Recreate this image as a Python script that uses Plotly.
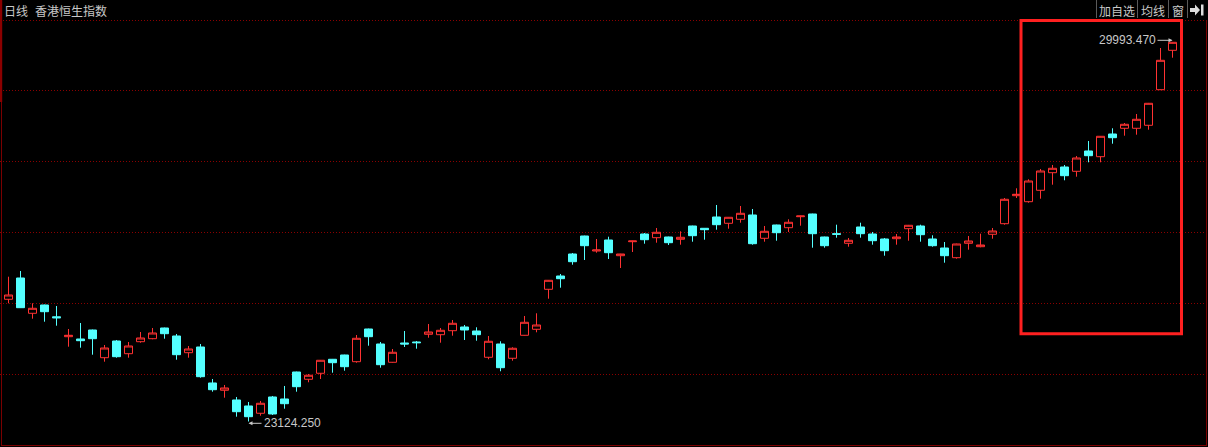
import plotly.graph_objects as go

# ---------------- data ----------------
title_period = "日线"
title_name = "香港恒生指数"
button_labels = ["加自选", "均线", "窗"]

day_index = list(range(98))

opens = [25336.4, 25721.9, 25083.0, 25233.2, 25019.6, 24659.4, 24617.8, 24780.7, 24279.3, 24581.6,
         24351.7, 24568.9, 24623.2, 24816.9, 24672.1, 24369.8, 24473.0, 23821.4, 23689.3, 23513.7,
         23405.1, 23273.0, 23568.0, 23531.8, 24020.5, 23888.4, 23997.0, 24250.4, 24328.2, 24206.9,
         24798.8, 24527.3, 24196.1, 24545.4, 24563.5, 24702.9, 24695.6, 24768.0, 24835.0, 24762.6,
         24286.6, 24527.3, 24268.5, 24684.8, 24793.4, 25517.4, 25758.1, 26156.3, 26482.1, 26210.6,
         26409.7, 26125.5, 26378.9, 26518.3, 26451.3, 26464.0, 26422.4, 26663.1, 26621.5, 26826.0,
         26712.0, 26784.4, 26862.2, 26440.5, 26681.2, 26632.3, 26831.4, 26880.3, 26464.0, 26523.7,
         26350.0, 26645.0, 26518.3, 26427.8, 26433.2, 26614.2, 26663.1, 26427.8, 26264.9, 26089.3,
         26350.0, 26288.4, 26512.9, 26704.7, 27211.5, 27102.9, 27309.3, 27627.8, 27731.0, 27653.2,
         28020.6, 27917.4, 28328.3, 28431.5, 28431.5, 28485.8, 29130.1, 29843.3]

highs = [25745.4, 25848.6, 25264.0, 25240.5, 25215.1, 24798.8, 24907.4, 24788.0, 24509.2, 24599.7,
         24563.5, 24744.5, 24816.9, 24823.5, 24708.3, 24491.1, 24527.3, 23893.8, 23785.2, 23568.0,
         23477.5, 23495.6, 23586.1, 23767.1, 24027.0, 23984.3, 24237.7, 24256.0, 24333.0, 24690.2,
         24805.0, 24563.5, 24436.8, 24762.6, 24581.6, 24889.3, 24816.9, 24961.7, 24871.2, 24829.6,
         24672.1, 24576.2, 24467.6, 25034.1, 25083.0, 25685.7, 25794.3, 26174.4, 26488.0, 26427.8,
         26469.4, 26160.0, 26396.0, 26536.4, 26626.9, 26470.0, 26567.2, 26669.0, 26626.0, 27043.2,
         26826.0, 27025.1, 26970.8, 26663.1, 26687.0, 26784.4, 26850.0, 26886.0, 26470.0, 26686.6,
         26445.9, 26722.8, 26554.5, 26445.9, 26518.3, 26682.0, 26686.6, 26494.8, 26373.5, 26343.0,
         26482.1, 26523.7, 26626.9, 27169.9, 27345.5, 27508.4, 27694.8, 27767.2, 27767.2, 27930.1,
         28201.6, 28292.0, 28431.5, 28527.4, 28690.3, 28890.0, 29884.9, 29993.47]

lows = [25264.0, 25178.9, 24985.2, 24930.9, 24858.5, 24478.4, 24460.3, 24333.6, 24206.9, 24279.3,
        24279.3, 24550.8, 24612.4, 24623.2, 24243.1, 24279.3, 23917.3, 23663.9, 23555.3, 23211.4,
        23124.25, 23229.5, 23242.2, 23356.2, 23663.9, 23834.1, 23893.8, 24007.8, 24044.0, 24188.8,
        24496.5, 24098.3, 24190.0, 24473.0, 24442.2, 24641.3, 24550.8, 24677.5, 24599.7, 24587.0,
        24250.4, 24033.2, 24225.0, 24680.0, 24739.1, 25347.2, 25546.3, 25962.6, 26047.7, 26179.8,
        26065.8, 25902.9, 26192.5, 26342.7, 26360.8, 26319.2, 26324.6, 26378.9, 26415.1, 26596.1,
        26614.2, 26722.8, 26324.6, 26378.9, 26397.0, 26554.5, 26668.5, 26270.3, 26270.3, 26451.3,
        26288.4, 26451.3, 26324.6, 26125.5, 26324.6, 26397.0, 26378.9, 26288.4, 25998.8, 26071.2,
        26234.1, 26277.6, 26433.2, 26686.6, 27169.9, 27084.8, 27157.2, 27410.6, 27490.3, 27555.4,
        27816.1, 27816.1, 28152.7, 28297.5, 28315.6, 28406.1, 29125.0, 29709.3]

closes = [25414.2, 25184.3, 25173.5, 25111.9, 25001.5, 24684.8, 24587.0, 24623.2, 24454.9, 24297.4,
          24491.1, 24635.9, 24726.4, 24713.7, 24333.6, 24436.8, 23935.4, 23700.1, 23730.9, 23301.9,
          23211.4, 23454.0, 23260.3, 23446.7, 23754.4, 23960.8, 24232.3, 24188.8, 24116.4, 24630.5,
          24659.4, 24152.6, 24377.1, 24527.3, 24550.8, 24744.5, 24775.3, 24902.0, 24780.7, 24695.6,
          24576.2, 24098.3, 24449.5, 24920.1, 24871.2, 25680.3, 25709.2, 26016.9, 26306.5, 26228.7,
          26179.8, 26156.3, 26391.6, 26415.1, 26549.1, 26360.8, 26458.6, 26487.5, 26596.1, 26686.6,
          26820.6, 26893.0, 26342.7, 26567.2, 26541.8, 26730.1, 26844.1, 26523.7, 26306.5, 26512.9,
          26404.3, 26523.7, 26397.0, 26216.0, 26464.0, 26675.8, 26505.6, 26306.5, 26125.5, 26337.3,
          26391.6, 26319.2, 26572.6, 27146.4, 27236.9, 27477.6, 27658.6, 27707.5, 27573.5, 27893.9,
          27935.5, 28286.7, 28261.3, 28503.9, 28594.4, 28884.0, 29662.3, 29988.0]

# ---------------- layout geometry ----------------
W, H = 1208, 447
UP_COLOR = "#ff3232"
DOWN_COLOR = "#54ffff"
GRID_COLOR = "#8b0000"
TEXT_COLOR = "#c8c8c8"
BOX_COLOR = "#ff2020"

hmax = max(highs)
lmin = min(lows)
imax = highs.index(hmax)
imin = lows.index(lmin)

# vertical scale: extreme high sits 42px from top, extreme low 421.5px
k = (hmax - lmin) / (421.5 - 42.0)
y_top = hmax + 42.0 * k
y_bot = y_top - H * k
# horizontal scale: 12px per day, first candle centred at 8.5px
x_left = -8.5 / 12
x_right = x_left + W / 12


def px(x):
    return x / W


def py(y):
    return 1 - y / H


def price_at(y):
    return y_top - y * k


grid_pix = [20 + i * 425 / 6 for i in range(6)]

fig = go.Figure()
fig.add_trace(go.Candlestick(
    x=day_index, open=opens, high=highs, low=lows, close=closes,
    increasing=dict(line=dict(color=UP_COLOR, width=1), fillcolor="#000000"),
    decreasing=dict(line=dict(color=DOWN_COLOR, width=1), fillcolor=DOWN_COLOR),
    whiskerwidth=0, showlegend=False, hoverinfo="skip",
))

shapes = []
# frame
shapes.append(dict(type="rect", xref="paper", yref="paper", x0=px(0), x1=px(2.2), y0=py(0), y1=py(102),
                   fillcolor="#8b0000", line=dict(width=0)))
shapes.append(dict(type="line", xref="paper", yref="paper", x0=px(1.5), x1=px(1.5), y0=py(102), y1=py(445.5),
                   line=dict(color="#7a0000", width=1)))
shapes.append(dict(type="line", xref="paper", yref="paper", x0=px(1), x1=px(1207), y0=py(445.5), y1=py(445.5),
                   line=dict(color="#7a0000", width=1)))
shapes.append(dict(type="line", xref="paper", yref="paper", x0=px(1206.5), x1=px(1206.5), y0=py(20), y1=py(445.5),
                   line=dict(color="#7a0000", width=1)))
# highlight box
shapes.append(dict(type="rect", xref="paper", yref="paper", x0=px(1021), x1=px(1181.5), y0=py(20.5), y1=py(333.8),
                   line=dict(color=BOX_COLOR, width=3), fillcolor="rgba(0,0,0,0)"))
# toolbar separators
for sx in [1096.5, 1137.5, 1168.5, 1187.5]:
    shapes.append(dict(type="line", xref="paper", yref="paper", x0=px(sx), x1=px(sx), y0=py(0), y1=py(18),
                       line=dict(color="#5a5a5a", width=1)))
# toolbar icon (arrow into bar)
icon = (f"M {px(1190)},{py(8)} L {px(1195)},{py(8)} L {px(1195)},{py(4.5)} L {px(1200)},{py(10)} "
        f"L {px(1195)},{py(15.5)} L {px(1195)},{py(12)} L {px(1190)},{py(12)} Z "
        f"M {px(1201)},{py(4.5)} L {px(1203.5)},{py(4.5)} L {px(1203.5)},{py(15.5)} L {px(1201)},{py(15.5)} Z")
shapes.append(dict(type="path", xref="paper", yref="paper", path=icon, fillcolor="#dcdcdc", line=dict(width=0)))

annotations = []
cjk = "Noto Sans CJK SC"
annotations.append(dict(xref="paper", yref="paper", x=px(2), y=py(10.5), xanchor="left", yanchor="middle",
                        text=title_period, showarrow=False, font=dict(family=cjk, size=12, color=TEXT_COLOR)))
annotations.append(dict(xref="paper", yref="paper", x=px(33), y=py(10.5), xanchor="left", yanchor="middle",
                        text=title_name, showarrow=False, font=dict(family=cjk, size=12, color=TEXT_COLOR)))
for lbl, cx in zip(button_labels, [1116.5, 1153, 1178]):
    annotations.append(dict(xref="paper", yref="paper", x=px(cx), y=py(10.5), xanchor="center", yanchor="middle",
                            text=lbl, showarrow=False, font=dict(family=cjk, size=12, color=TEXT_COLOR)))

# extreme value markers
annotations.append(dict(x=day_index[imax], y=price_at(40.3), xref="x", yref="y", text=f"{hmax:.3f}",
                        showarrow=True, ax=-15, ay=0, xanchor="right", yanchor="middle",
                        arrowhead=2, arrowsize=0.8, arrowwidth=1, arrowcolor=TEXT_COLOR, standoff=0,
                        font=dict(family="Liberation Sans", size=12, color=TEXT_COLOR)))
annotations.append(dict(x=day_index[imin], y=price_at(423.3), xref="x", yref="y", text=f"{lmin:.3f}",
                        showarrow=True, ax=13, ay=0, xanchor="left", yanchor="middle",
                        arrowhead=2, arrowsize=0.8, arrowwidth=1, arrowcolor=TEXT_COLOR, standoff=0,
                        font=dict(family="Liberation Sans", size=12, color=TEXT_COLOR)))

fig.update_layout(
    width=W, height=H, autosize=False,
    margin=dict(l=0, r=0, t=0, b=0, pad=0),
    paper_bgcolor="#000000", plot_bgcolor="#000000",
    boxgap=1 / 3, boxgroupgap=0,
    hovermode=False, showlegend=False,
    shapes=shapes, annotations=annotations,
    xaxis=dict(range=[x_left, x_right], showgrid=False, zeroline=False, showticklabels=False,
               showline=False, ticks="", rangeslider=dict(visible=False), fixedrange=True),
    yaxis=dict(range=[y_bot, y_top], tickvals=[price_at(g) for g in grid_pix], showticklabels=False,
               showgrid=True, gridcolor=GRID_COLOR, gridwidth=1, griddash="1px,2px",
               zeroline=False, showline=False, ticks="", fixedrange=True),
)

fig.write_html("out.html", config={"displayModeBar": False},
               post_script="document.body.style.margin='0';document.body.style.overflow='hidden';")
